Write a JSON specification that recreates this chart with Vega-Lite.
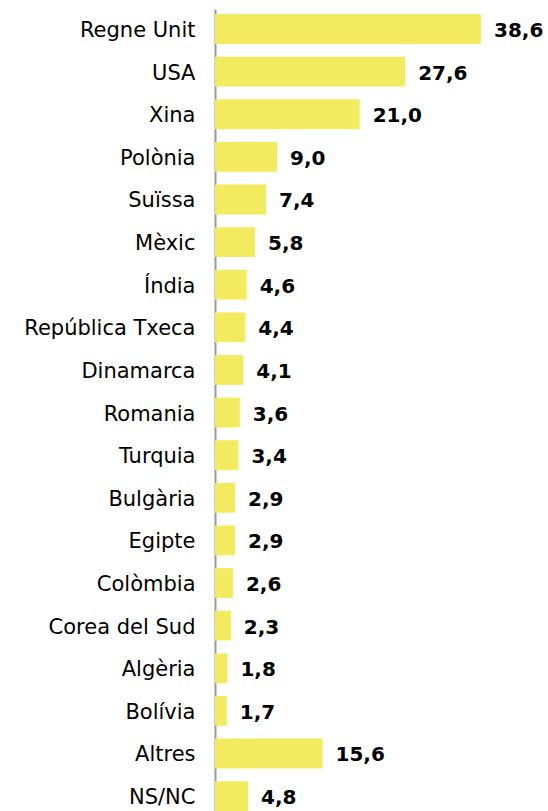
{
  "$schema": "https://vega.github.io/schema/vega-lite/v6.json",
  "width": 333,
  "height": 802,
  "autosize": {"type": "none"},
  "padding": {"left": 215, "top": 9, "right": 0, "bottom": 0},
  "background": "white",
  "config": {
    "view": {"stroke": null},
    "font": "DejaVu Sans",
    "locale": {"number": {"decimal": ",", "thousands": ".", "grouping": [3], "currency": ["", " €"]}}
  },
  "data": {
    "values": [
      {"pais": "Regne Unit", "valor": 38.6},
      {"pais": "USA", "valor": 27.6},
      {"pais": "Xina", "valor": 21.0},
      {"pais": "Polònia", "valor": 9.0},
      {"pais": "Suïssa", "valor": 7.4},
      {"pais": "Mèxic", "valor": 5.8},
      {"pais": "Índia", "valor": 4.6},
      {"pais": "República Txeca", "valor": 4.4},
      {"pais": "Dinamarca", "valor": 4.1},
      {"pais": "Romania", "valor": 3.6},
      {"pais": "Turquia", "valor": 3.4},
      {"pais": "Bulgària", "valor": 2.9},
      {"pais": "Egipte", "valor": 2.9},
      {"pais": "Colòmbia", "valor": 2.6},
      {"pais": "Corea del Sud", "valor": 2.3},
      {"pais": "Algèria", "valor": 1.8},
      {"pais": "Bolívia", "valor": 1.7},
      {"pais": "Altres", "valor": 15.6},
      {"pais": "NS/NC", "valor": 4.8}
    ]
  },
  "encoding": {
    "y": {
      "field": "pais",
      "type": "nominal",
      "sort": null,
      "scale": {"paddingInner": 0.3, "paddingOuter": 0.06, "align": 1},
      "axis": {
        "title": null,
        "ticks": false,
        "labelPadding": 20,
        "labelOffset": 2,
        "labelFontSize": 21,
        "labelFont": "DejaVu Sans",
        "labelColor": "#000000",
        "labelLimit": 300,
        "domainColor": "#999999",
        "domainWidth": 2
      }
    },
    "x": {
      "field": "valor",
      "type": "quantitative",
      "scale": {"domain": [0, 48.33], "nice": false, "zero": true},
      "axis": null
    }
  },
  "layer": [
    {"mark": {"type": "bar", "color": "#f2eb60"}},
    {
      "mark": {"type": "text", "align": "left", "baseline": "middle", "dx": 13, "dy": 2, "fontSize": 20, "fontWeight": "bold", "font": "DejaVu Sans", "color": "#000000"},
      "encoding": {"text": {"field": "valor", "type": "quantitative", "format": ".1f"}}
    }
  ]
}
